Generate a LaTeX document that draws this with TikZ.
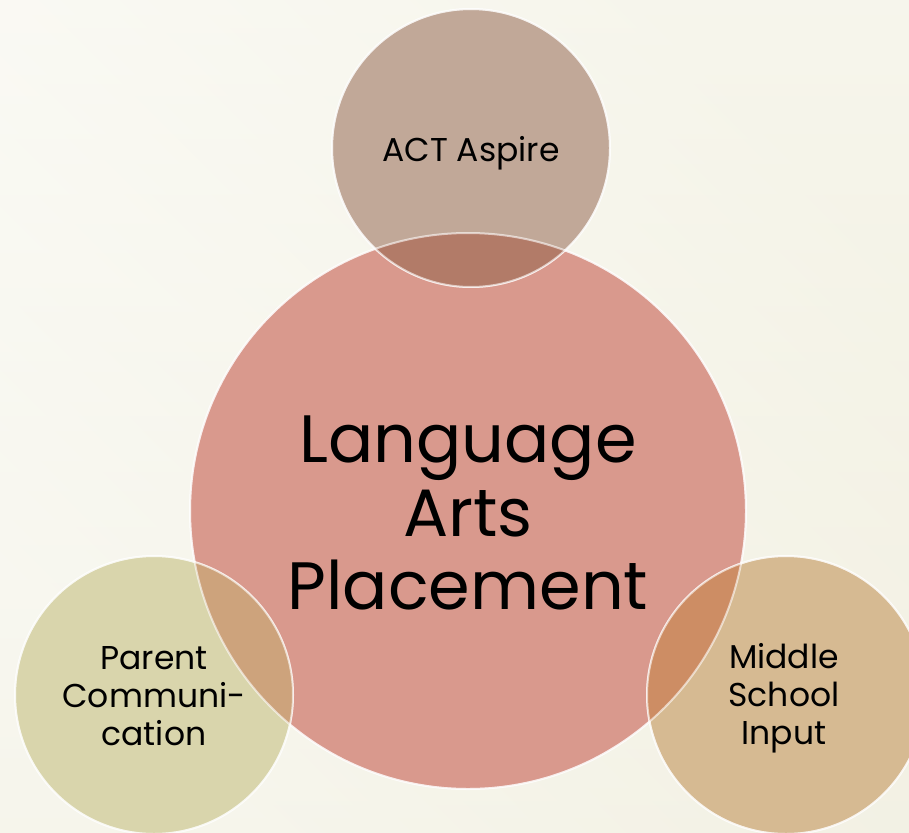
\documentclass[tikz,border=0pt]{standalone}
\usepackage{fontspec}
\setmainfont{Poppins}
\usetikzlibrary{shadings}
\definecolor{bgA}{RGB}{253,253,250}
\definecolor{bgB}{RGB}{240,238,222}
\definecolor{cTop}{RGB}{193,168,152}
\definecolor{cMain}{RGB}{217,153,141}
\definecolor{cLeft}{RGB}{217,213,172}
\definecolor{cRight}{RGB}{214,186,146}
\definecolor{oTop}{RGB}{178,123,104}
\definecolor{oLeft}{RGB}{205,163,124}
\definecolor{oRight}{RGB}{205,141,100}
\tikzset{
  bubble/.style={circle, inner sep=0pt, align=center, text=black},
  rim/.style={draw=white, draw opacity=0.6, line width=2pt},
  small/.style={bubble, minimum size=278pt, font=\fontsize{33}{38}\selectfont},
  big/.style={bubble, minimum size=556pt, font=\fontsize{67}{73.5}\selectfont},
}
\begin{document}
\begin{tikzpicture}[x=1pt,y=-1pt]
\useasboundingbox (0,0) rectangle (909,832);
\shade[left color=bgA, right color=bgB, shading angle=135] (0,0) rectangle (909,832);
\path[shade, top color=bgA, bottom color=bgB, opacity=0.5] (0,0) rectangle (909,832);
% circles
\node[big, fill=cMain, rim] (main) at (468,511) {};
\node[small, fill=cTop, rim] (top) at (471,148) {};
\node[small, fill=cLeft, rim] (left) at (154,695) {};
\node[small, fill=cRight, rim] (right) at (786,695) {};
% overlaps
\begin{scope}
  \clip (main.center) circle (278);
  \fill[oTop] (top.center) circle (139);
  \fill[oLeft] (left.center) circle (139);
  \fill[oRight] (right.center) circle (139);
\end{scope}
\draw[white, opacity=0.6, line width=2pt] (main.center) circle (278);
\draw[white, opacity=0.6, line width=2pt] (top.center) circle (139);
\draw[white, opacity=0.6, line width=2pt] (left.center) circle (139);
\draw[white, opacity=0.6, line width=2pt] (right.center) circle (139);
% texts
\node[small] at ([yshift=-5]top.center) {ACT Aspire};
\node[big] at ([yshift=-2]main.center) {Language\\Arts\\Placement};
\node[small] at ([yshift=-1]left.center) {Parent\\Communi-\\cation};
\node[small] at ([xshift=-2,yshift=-3]right.center) {Middle\\School\\Input};
\end{tikzpicture}
\end{document}
